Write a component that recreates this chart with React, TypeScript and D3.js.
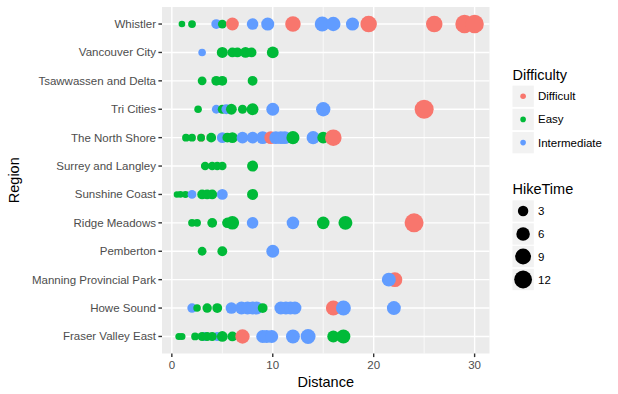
import React from 'react';
import * as d3 from 'd3';

// regions, top to bottom as drawn
const regions = [
  'Whistler', 'Vancouver City', 'Tsawwassen and Delta', 'Tri Cities', 'The North Shore',
  'Surrey and Langley', 'Sunshine Coast', 'Ridge Meadows', 'Pemberton',
  'Manning Provincial Park', 'Howe Sound', 'Fraser Valley East',
];

const difficulties = ['Difficult', 'Easy', 'Intermediate'];
const colors = ['#F8766D', '#00BA38', '#619CFF'];
const sizeBreaks = [3, 6, 9, 12];
const xTicks = [0, 10, 20, 30];
const xMinor = [5, 15, 25];

// [distance, hikeTime, difficulty]
type Hike = [number, number, string];
const D = 'Difficult', E = 'Easy', I = 'Intermediate';

const whistler: Hike[] = [
  [1.0, 0.7, E], [2.0, 1.2, E], [4.4, 2.5, I], [5.0, 1.8, E], [6.0, 5.3, D], [8.0, 4.0, I],
  [9.5, 5.5, I], [12.0, 8.5, D], [14.9, 7.7, I], [16.0, 7.0, I], [17.9, 5.5, I], [19.5, 10, D],
  [26.0, 10, D], [29.0, 13, D], [30.0, 13, D],
];
const vancouverCity: Hike[] = [
  [3.0, 1.1, I], [5.0, 3.5, E], [6.0, 2.5, E], [6.5, 2.5, E], [7.3, 3.3, E], [7.9, 2.5, E], [10.0, 4.2, E],
];
const tsawwassen: Hike[] = [
  [3.0, 1.8, E], [4.4, 2.5, E], [5.0, 2.5, E], [8.0, 2.5, E],
];
const triCities: Hike[] = [
  [2.6, 1.1, E], [4.4, 1.8, I], [5.0, 2.0, E], [5.4, 2.5, I], [5.9, 3.3, E], [7.0, 2.0, E],
  [8.0, 4.2, E], [10.0, 5.3, I], [15.0, 7.0, I], [25.0, 14, D],
];
const northShore: Hike[] = [
  [1.4, 1.2, E], [2.0, 1.2, E], [2.9, 1.2, D], [2.9, 1.2, E], [3.9, 2.5, E], [5.0, 3.3, I],
  [5.5, 2.5, E], [6.0, 3.3, E], [7.0, 4.2, I], [8.0, 4.2, I], [9.0, 5.3, I], [9.8, 5.3, D],
  [10.3, 5.3, I], [10.8, 5.3, I], [11.2, 5.3, I], [12.0, 5.5, E], [14.0, 5.5, I], [15.0, 4.2, E],
  [16.0, 10, D],
];
const surreyLangley: Hike[] = [
  [3.3, 1.6, E], [4.0, 1.6, E], [4.5, 1.6, E], [5.0, 1.6, E], [8.0, 3.5, E],
];
const sunshineCoast: Hike[] = [
  [0.5, 0.6, E], [0.85, 0.7, E], [1.35, 0.8, E], [2.0, 1.8, I], [3.0, 2.5, E], [3.5, 2.5, E],
  [4.0, 2.5, E], [5.0, 3.3, I], [8.0, 3.5, E],
];
const ridgeMeadows: Hike[] = [
  [2.0, 1.2, E], [2.5, 1.2, E], [4.0, 2.5, E], [5.5, 3.0, E], [6.0, 6.0, E], [8.0, 4.0, I],
  [12.0, 5.0, I], [15.0, 5.0, E], [17.2, 6.5, E], [24.0, 14, D],
];
const pemberton: Hike[] = [
  [3.0, 1.8, E], [5.0, 2.5, E], [10.0, 5.3, I],
];
const manning: Hike[] = [
  [22.1, 7.7, D], [21.5, 6.5, I],
];
const howeSound: Hike[] = [
  [2.0, 2.2, I], [2.5, 1.1, E], [3.5, 2.2, E], [4.5, 2.5, E], [5.9, 4.0, I], [6.9, 5.3, I],
  [7.5, 5.3, I], [8.0, 5.3, I], [8.4, 5.3, I], [9.0, 2.5, E], [10.8, 5.3, I], [11.3, 5.3, I],
  [11.75, 5.3, I], [12.2, 5.3, I], [16.0, 7.7, D], [17.0, 7.7, I], [22.0, 6.5, I],
];
const fraserValleyEast: Hike[] = [
  [0.7, 0.9, E], [1.0, 0.9, E], [2.3, 1.2, E], [3.3, 2.0, I], [3.0, 2.0, E], [4.5, 2.0, I],
  [3.5, 2.0, E], [4.0, 2.0, E], [5.0, 3.3, E], [6.0, 2.5, E], [7.0, 7.0, D], [9.0, 5.3, I],
  [9.4, 5.3, I], [9.9, 5.3, I], [12.0, 6.5, I], [13.5, 7.7, I], [16.0, 4.5, E], [17.0, 6.5, E],
];

const hikesByRegion: Record<string, Hike[]> = {
  'Whistler': whistler,
  'Vancouver City': vancouverCity,
  'Tsawwassen and Delta': tsawwassen,
  'Tri Cities': triCities,
  'The North Shore': northShore,
  'Surrey and Langley': surreyLangley,
  'Sunshine Coast': sunshineCoast,
  'Ridge Meadows': ridgeMeadows,
  'Pemberton': pemberton,
  'Manning Provincial Park': manning,
  'Howe Sound': howeSound,
  'Fraser Valley East': fraserValleyEast,
};

const W = 618, H = 394;
const panel = { left: 162, right: 489.5, top: 7, bottom: 353.5 };
const font = '"Liberation Sans", Arial, Helvetica, sans-serif';
const textGrey = '#4D4D4D';

const App = () => {
  const allDist = regions.flatMap(r => hikesByRegion[r].map(h => h[0]));
  const allTime = regions.flatMap(r => hikesByRegion[r].map(h => h[1]));
  const [dMin, dMax] = d3.extent(allDist) as [number, number];
  const pad = (dMax - dMin) * 0.05;

  const x = d3.scaleLinear().domain([dMin - pad, dMax + pad]).range([panel.left, panel.right]);
  const y = d3.scalePoint<string>().domain(regions).range([panel.top, panel.bottom]).padding(0.6);
  const color = d3.scaleOrdinal<string, string>().domain(difficulties).range(colors);
  const [tMin, tMax] = d3.extent(allTime) as [number, number];
  const rSqrt = d3.scaleLinear().domain([Math.sqrt(tMin), Math.sqrt(tMax)]).range([3.2, 9.5]);
  const radius = (t: number) => rSqrt(Math.sqrt(t));

  const legX = 512.5;
  return (
    <svg width={W} height={H} style={{ position: 'fixed', left: 0, top: 0, background: '#fff' }} fontFamily={font}>
      <rect x={panel.left} y={panel.top} width={panel.right - panel.left} height={panel.bottom - panel.top} fill="#EBEBEB" />
      {xMinor.map(t => (
        <line key={'mn' + t} x1={x(t)} x2={x(t)} y1={panel.top} y2={panel.bottom} stroke="#fff" strokeWidth={0.7} />
      ))}
      {xTicks.map(t => (
        <line key={'mj' + t} x1={x(t)} x2={x(t)} y1={panel.top} y2={panel.bottom} stroke="#fff" strokeWidth={1.4} />
      ))}
      {regions.map(r => (
        <line key={'g' + r} x1={panel.left} x2={panel.right} y1={y(r)} y2={y(r)} stroke="#fff" strokeWidth={1.4} />
      ))}

      {regions.map(r => (
        <g key={'p' + r}>
          {hikesByRegion[r].map(([dist, time, diff], i) => (
            <circle key={i} cx={x(dist)} cy={y(r)} r={radius(time)} fill={color(diff)} />
          ))}
        </g>
      ))}

      {/* y axis */}
      {regions.map(r => (
        <g key={'yt' + r}>
          <line x1={panel.left - 3.6} x2={panel.left} y1={y(r)} y2={y(r)} stroke="#333" strokeWidth={1.4} />
          <text x={panel.left - 6} y={y(r)} dy="0.35em" textAnchor="end" fontSize={11.5} fill={textGrey}>{r}</text>
        </g>
      ))}
      {/* x axis */}
      {xTicks.map(t => (
        <g key={'xt' + t}>
          <line x1={x(t)} x2={x(t)} y1={panel.bottom} y2={panel.bottom + 3.6} stroke="#333" strokeWidth={1.4} />
          <text x={x(t)} y={panel.bottom + 15.5} textAnchor="middle" fontSize={11.5} fill={textGrey}>{t}</text>
        </g>
      ))}
      <text x={(panel.left + panel.right) / 2} y={387} textAnchor="middle" fontSize={14.5} fill="#000">Distance</text>
      <text transform={`translate(19,${(panel.top + panel.bottom) / 2}) rotate(-90)`} textAnchor="middle" fontSize={14.5} fill="#000">Region</text>

      {/* colour legend */}
      <text x={legX} y={80} fontSize={14.5} fill="#000">Difficulty</text>
      {difficulties.map((d, i) => {
        const cy = 96.2 + i * 23.2;
        return (
          <g key={'lc' + d}>
            <rect x={legX} y={cy - 10.6} width={21.3} height={21.3} fill="#F2F2F2" />
            <circle cx={legX + 10.6} cy={cy} r={2.8} fill={color(d)} />
            <text x={legX + 25.5} y={cy} dy="0.35em" fontSize={11.5} fill="#000">{d}</text>
          </g>
        );
      })}

      {/* size legend */}
      <text x={legX} y={194} fontSize={14.5} fill="#000">HikeTime</text>
      {sizeBreaks.map((s, i) => {
        const cy = [211, 234, 256.5, 279.5][i];
        const h = i === 3 ? 21.3 : 21.3;
        return (
          <g key={'ls' + s}>
            <rect x={legX} y={cy - h / 2} width={21.3} height={h} fill="#F2F2F2" />
            <circle cx={legX + 10.6} cy={cy} r={radius(s)} fill="#000" />
            <text x={legX + 25.5} y={cy} dy="0.35em" fontSize={11.5} fill="#000">{s}</text>
          </g>
        );
      })}
    </svg>
  );
};

export default App;
